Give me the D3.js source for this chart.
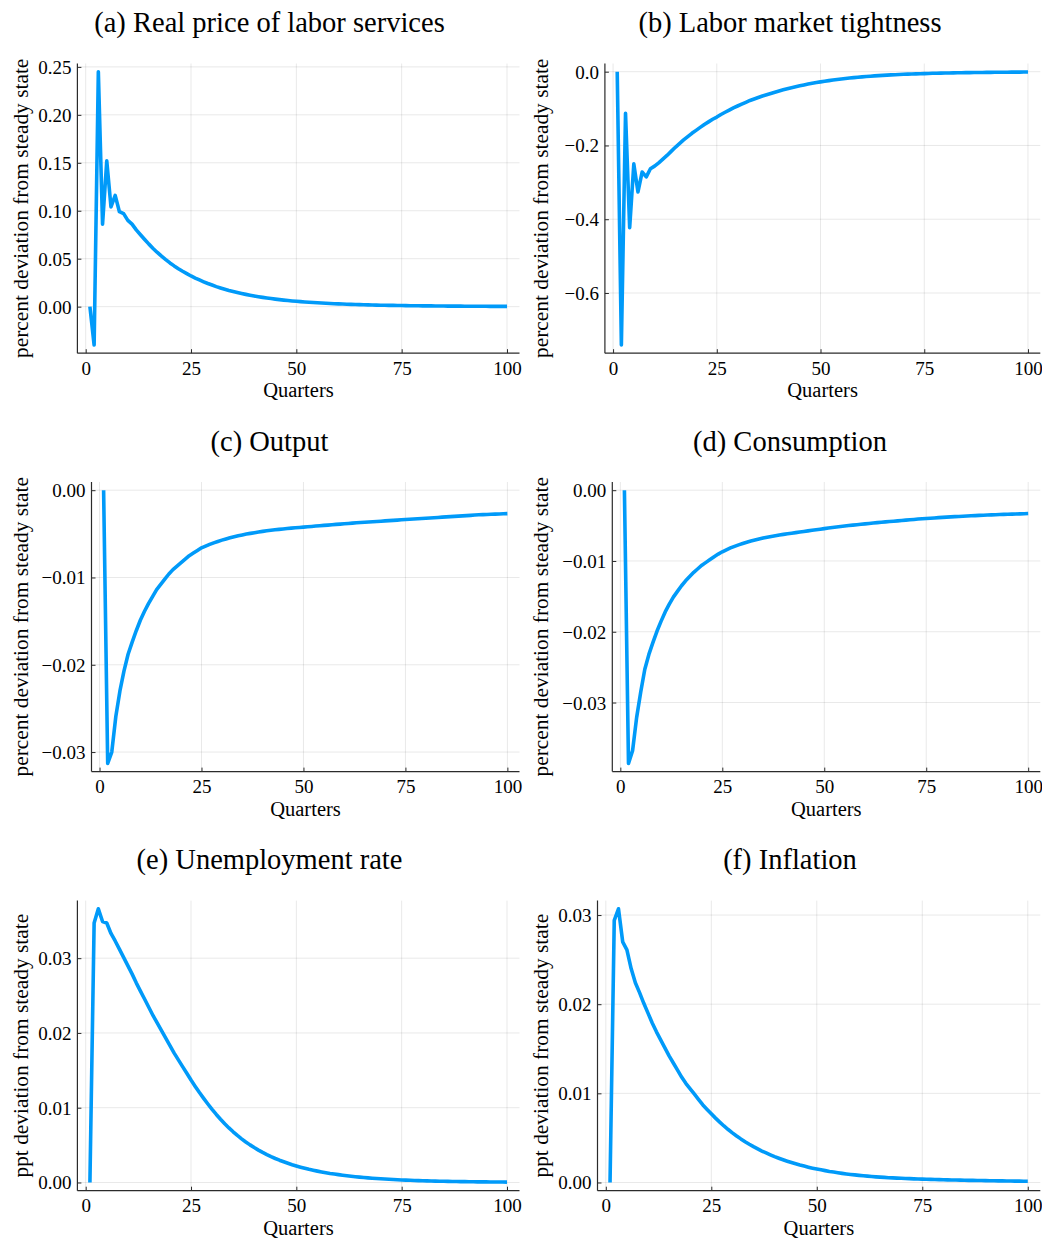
<!DOCTYPE html>
<html><head><meta charset="utf-8">
<script src="https://cdn.jsdelivr.net/npm/d3@7"></script>
<style>
body{margin:0;background:#fff;}
svg{display:block;font-family:"Liberation Serif","Times New Roman",serif;}
</style></head><body>
<svg id="chart" width="1042" height="1240"></svg>
<script>
// x categories: quarters 1..100
const quarters = d3.range(1, 101);
const xTicks = [0, 25, 50, 75, 100];

const realPrice = [
 0, -0.040, 0.245, 0.086, 0.152, 0.104, 0.116, 0.099, 0.097, 0.090,
 0.086, 0.080, 0.075, 0.0700, 0.0652, 0.0607, 0.0565, 0.0526, 0.0490, 0.0456,
 0.0425, 0.0396, 0.0369, 0.0344, 0.0320, 0.0298, 0.0278, 0.0259, 0.0241, 0.0225,
 0.0209, 0.0195, 0.0182, 0.0169, 0.0158, 0.0147, 0.0137, 0.0128, 0.0119, 0.0111,
 0.01035, 0.00965, 0.0090, 0.0084, 0.00783, 0.0073, 0.00681, 0.00636, 0.00594, 0.00555,
 0.00519, 0.00485, 0.00454, 0.00425, 0.00398, 0.00372, 0.00348, 0.00326, 0.00306, 0.00287,
 0.00269, 0.00252, 0.00237, 0.00222, 0.00209, 0.00196, 0.00184, 0.00173, 0.00163, 0.00153,
 0.00144, 0.00136, 0.00128, 0.0012, 0.00113, 0.00107, 0.0010, 0.00095, 0.00089, 0.00084,
 0.00079, 0.00075, 0.0007, 0.00066, 0.00063, 0.00059, 0.00056, 0.00053, 0.0005, 0.00047,
 0.00044, 0.00042, 0.0004, 0.00037, 0.00035, 0.00033, 0.00031, 0.0003, 0.00028, 0.00027
];
const tightness = [
 0, -0.741, -0.1125, -0.423, -0.250, -0.326, -0.272, -0.285, -0.263, -0.256,
 -0.247, -0.237, -0.227, -0.216, -0.205, -0.195, -0.185, -0.176, -0.167, -0.159,
 -0.151, -0.143, -0.136, -0.129, -0.123, -0.116, -0.110, -0.104, -0.098, -0.093,
 -0.088, -0.083, -0.078, -0.074, -0.070, -0.066, -0.0625, -0.059, -0.0555, -0.0522,
 -0.0491, -0.0461, -0.0433, -0.0407, -0.0382, -0.0358, -0.0336, -0.0315, -0.0295, -0.0276,
 -0.0258, -0.0242, -0.0226, -0.0211, -0.0197, -0.0184, -0.0172, -0.0161, -0.015, -0.014,
 -0.0131, -0.0122, -0.0114, -0.0107, -0.01, -0.0093, -0.0087, -0.0081, -0.0076, -0.0071,
 -0.0066, -0.0062, -0.0058, -0.0054, -0.0051, -0.0047, -0.0044, -0.0041, -0.0039, -0.0036,
 -0.0034, -0.0032, -0.003, -0.0028, -0.0026, -0.0024, -0.0023, -0.0021, -0.002, -0.0019,
 -0.0017, -0.0016, -0.0015, -0.0014, -0.0013, -0.0012, -0.0011, -0.00105, -0.001, -0.0009
];
const output = [
 0, -0.0313, -0.0300, -0.0259, -0.0230, -0.0207, -0.0188, -0.0174, -0.0161, -0.0149,
 -0.0139, -0.0130, -0.0122, -0.0114, -0.0108, -0.0102, -0.0096, -0.0091, -0.0087, -0.0083,
 -0.0079, -0.0075, -0.0072, -0.0069, -0.0066, -0.0064, -0.00621, -0.00603, -0.00587, -0.00572,
 -0.00558, -0.00545, -0.00533, -0.00522, -0.00512, -0.00503, -0.004945, -0.004865, -0.00479, -0.00472,
 -0.004655, -0.004595, -0.00454, -0.00449, -0.00444, -0.004395, -0.00435, -0.00431, -0.00427, -0.00423,
 -0.00419, -0.00415, -0.00411, -0.00407, -0.00403, -0.004, -0.00396, -0.00392, -0.00389, -0.00385,
 -0.00381, -0.00377, -0.00373, -0.0037, -0.00367, -0.00364, -0.00361, -0.00358, -0.00355, -0.00352,
 -0.00349, -0.00346, -0.00343, -0.00339, -0.00336, -0.00333, -0.0033, -0.00327, -0.00324, -0.00321,
 -0.00318, -0.00315, -0.00312, -0.00309, -0.00306, -0.00303, -0.003, -0.00297, -0.00294, -0.00291,
 -0.00288, -0.00285, -0.00282, -0.0028, -0.00278, -0.00276, -0.00274, -0.00272, -0.0027, -0.00268
];
const consumption = [
 0, -0.0386, -0.0368, -0.0321, -0.0285, -0.0253, -0.0232, -0.0215, -0.0199, -0.0185,
 -0.0172, -0.0161, -0.0151, -0.0143, -0.0135, -0.0128, -0.0122, -0.0116, -0.0111, -0.0106,
 -0.0102, -0.0098, -0.0094, -0.00903, -0.0087, -0.00842, -0.00816, -0.00793, -0.00772, -0.00753,
 -0.00735, -0.00718, -0.00703, -0.00689, -0.00676, -0.00664, -0.00653, -0.00643, -0.00633, -0.00624,
 -0.00615, -0.00607, -0.00599, -0.00591, -0.00583, -0.00575, -0.00567, -0.00559, -0.00551, -0.00543,
 -0.00535, -0.00528, -0.00521, -0.00514, -0.00507, -0.005, -0.00494, -0.00488, -0.00482, -0.00476,
 -0.0047, -0.00464, -0.00458, -0.00453, -0.00448, -0.00443, -0.00438, -0.00433, -0.00428, -0.00423,
 -0.00418, -0.00413, -0.00408, -0.00404, -0.004, -0.00396, -0.00392, -0.00388, -0.00384, -0.0038,
 -0.00377, -0.00374, -0.00371, -0.00368, -0.00365, -0.00362, -0.00359, -0.00356, -0.00353, -0.0035,
 -0.00348, -0.00346, -0.00344, -0.00342, -0.0034, -0.00338, -0.00336, -0.00334, -0.00332, -0.0033
];
const unemployment = [
 0, 0.0347, 0.0366, 0.0349, 0.0347, 0.0333, 0.0323, 0.0312, 0.0301, 0.0290,
 0.0279, 0.0267, 0.0256, 0.0245, 0.0234, 0.0223, 0.0213, 0.0203, 0.0193, 0.0183,
 0.0173, 0.0164, 0.0155, 0.0146, 0.0137, 0.01285, 0.01203, 0.01125, 0.0105, 0.00978,
 0.0091, 0.00846, 0.00786, 0.0073, 0.00678, 0.00629, 0.00584, 0.00542, 0.00503, 0.00467,
 0.00433, 0.00402, 0.00373, 0.00346, 0.00321, 0.00298, 0.00277, 0.00257, 0.00238, 0.00221,
 0.00205, 0.0019, 0.00176, 0.00164, 0.00152, 0.00141, 0.00131, 0.00121, 0.00113, 0.00105,
 0.00097, 0.0009, 0.000835, 0.000775, 0.00072, 0.000668, 0.00062, 0.000575, 0.000534, 0.000495,
 0.00046, 0.000427, 0.000396, 0.000367, 0.000341, 0.000316, 0.000293, 0.000272, 0.000253, 0.000234,
 0.000218, 0.000202, 0.000187, 0.000174, 0.000161, 0.00015, 0.000139, 0.000129, 0.00012, 0.000111,
 0.000103, 0.0000955, 0.0000886, 0.0000822, 0.0000763, 0.0000708, 0.0000657, 0.000061, 0.0000566, 0.0000525
];
const inflation = [
 0, 0.0294, 0.0307, 0.0270, 0.0261, 0.0240, 0.0224, 0.0213, 0.0201, 0.0190,
 0.0179, 0.0169, 0.0160, 0.0151, 0.0142, 0.0134, 0.0126, 0.0118, 0.0111, 0.0105,
 0.0099, 0.0093, 0.0087, 0.0082, 0.0077, 0.00722, 0.00677, 0.00634, 0.00594, 0.00557,
 0.00522, 0.00489, 0.00458, 0.00429, 0.00402, 0.00377, 0.00353, 0.00331, 0.0031, 0.0029,
 0.00272, 0.00255, 0.00239, 0.00224, 0.0021, 0.00196, 0.00184, 0.00172, 0.00161, 0.00151,
 0.00142, 0.00133, 0.00124, 0.00117, 0.00109, 0.00102, 0.00096, 0.0009, 0.00085, 0.0008,
 0.00075, 0.00071, 0.00067, 0.00063, 0.0006, 0.00057, 0.00054, 0.000515, 0.00049, 0.00047,
 0.00045, 0.00043, 0.00041, 0.000393, 0.000377, 0.000362, 0.000348, 0.000334, 0.000321, 0.000308,
 0.000296, 0.000284, 0.000273, 0.000262, 0.000252, 0.000242, 0.000233, 0.000224, 0.000215, 0.000207,
 0.000199, 0.000191, 0.000184, 0.000177, 0.00017, 0.000164, 0.000158, 0.000152, 0.000146, 0.00014
];

const titles = ["(a) Real price of labor services", "(b) Labor market tightness", "(c) Output",
  "(d) Consumption", "(e) Unemployment rate", "(f) Inflation"];
const yLabels = ["percent deviation from steady state", "percent deviation from steady state",
  "percent deviation from steady state", "percent deviation from steady state",
  "ppt deviation from steady state", "ppt deviation from steady state"];
const yTickSets = [
  [0, 0.05, 0.10, 0.15, 0.20, 0.25],
  [0, -0.2, -0.4, -0.6],
  [0, -0.01, -0.02, -0.03],
  [0, -0.01, -0.02, -0.03],
  [0, 0.01, 0.02, 0.03],
  [0, 0.01, 0.02, 0.03]
];
const yTickFormats = [".2f", ".1f", ".2f", ".2f", ".2f", ".2f"];
const xLabel = "Quarters";
const seriesList = [realPrice, tightness, output, consumption, unemployment, inflation];

// layout (plot-area boxes)
const layout = [
  {l: 77.4,  r: 519.5,  t: 63.5,  b: 353.2, cx: 269.5, lx: 21.5},
  {l: 604.9, r: 1040.3, t: 63.5,  b: 353.2, cx: 790,   lx: 541.5},
  {l: 91.5,  r: 519.5,  t: 482,   b: 771.6, cx: 269.5, lx: 21.5},
  {l: 612.3, r: 1040.3, t: 482,   b: 771.6, cx: 790,   lx: 541.5},
  {l: 77.4,  r: 519.5,  t: 900.6, b: 1190.7, cx: 269.5, lx: 21.5},
  {l: 597.5, r: 1040.3, t: 900.6, b: 1190.7, cx: 790,   lx: 541.5}
];

const svg = d3.select("#chart");
const lineColor = "#009AF9";
const gridColor = "rgba(0,0,0,0.09)";
const axisColor = "#2b2b2b";
const fontFam = '"Liberation Serif","Times New Roman",serif';

seriesList.forEach((vals, i) => {
  const L = layout[i];
  const data = vals.map((v, k) => ({q: quarters[k], v}));
  const xext = d3.extent(data, d => d.q);
  const xpad = (xext[1] - xext[0]) * 0.03;
  const x = d3.scaleLinear().domain([xext[0] - xpad, xext[1] + xpad]).range([L.l, L.r]);
  const yext = d3.extent(data, d => d.v);
  const ypad = (yext[1] - yext[0]) * 0.03;
  const y = d3.scaleLinear().domain([yext[0] - ypad, yext[1] + ypad]).range([L.b, L.t]);

  const g = svg.append("g");

  // grid
  g.append("g").selectAll("line").data(xTicks).join("line")
    .attr("x1", d => x(d)).attr("x2", d => x(d))
    .attr("y1", L.t).attr("y2", L.b)
    .attr("stroke", gridColor).attr("stroke-width", 1);
  g.append("g").selectAll("line").data(yTickSets[i]).join("line")
    .attr("x1", L.l).attr("x2", L.r)
    .attr("y1", d => y(d)).attr("y2", d => y(d))
    .attr("stroke", gridColor).attr("stroke-width", 1);

  // axes
  const fmt = d3.format(yTickFormats[i]);
  const ax = g.append("g").attr("transform", `translate(0,${L.b})`)
    .call(d3.axisBottom(x).tickValues(xTicks).tickSizeInner(-4).tickSizeOuter(0).tickPadding(8).tickFormat(d3.format("d")));
  const ay = g.append("g").attr("transform", `translate(${L.l},0)`)
    .call(d3.axisLeft(y).tickValues(yTickSets[i]).tickSizeInner(-4).tickSizeOuter(0).tickPadding(6).tickFormat(fmt));
  [ax, ay].forEach(a => {
    a.select(".domain").remove();
    a.selectAll(".tick line").attr("stroke", axisColor).attr("stroke-width", 1);
    a.selectAll(".tick text").attr("fill", "#000").style("font-size", "19px")
      .style("font-family", fontFam);
  });
  ay.selectAll(".tick text").attr("dy", "0.34em");

  // spines (left & bottom)
  g.append("line").attr("x1", L.l).attr("x2", L.l).attr("y1", L.t).attr("y2", L.b)
    .attr("stroke", axisColor).attr("stroke-width", 1.2);
  g.append("line").attr("x1", L.l).attr("x2", L.r).attr("y1", L.b).attr("y2", L.b)
    .attr("stroke", axisColor).attr("stroke-width", 1.2);

  // line
  g.append("path").datum(data)
    .attr("fill", "none").attr("stroke", lineColor).attr("stroke-width", 3.6)
    .attr("stroke-linejoin", "round").attr("stroke-linecap", "butt")
    .attr("d", d3.line().x(d => x(d.q)).y(d => y(d.v)));

  // title
  g.append("text").attr("x", L.cx).attr("y", L.t - 31.5)
    .attr("text-anchor", "middle").style("font-size", "28.5px").text(titles[i]);
  // x label
  g.append("text").attr("x", (L.l + L.r) / 2).attr("y", L.b + 44)
    .attr("text-anchor", "middle").style("font-size", "20.5px").text(xLabel);
  // y label
  g.append("text")
    .attr("transform", `translate(${L.lx},${(L.t + L.b) / 2}) rotate(-90)`)
    .attr("text-anchor", "middle").attr("dy", "0.32em")
    .style("font-size", "21.4px").text(yLabels[i]);
});
</script>
</body></html>
